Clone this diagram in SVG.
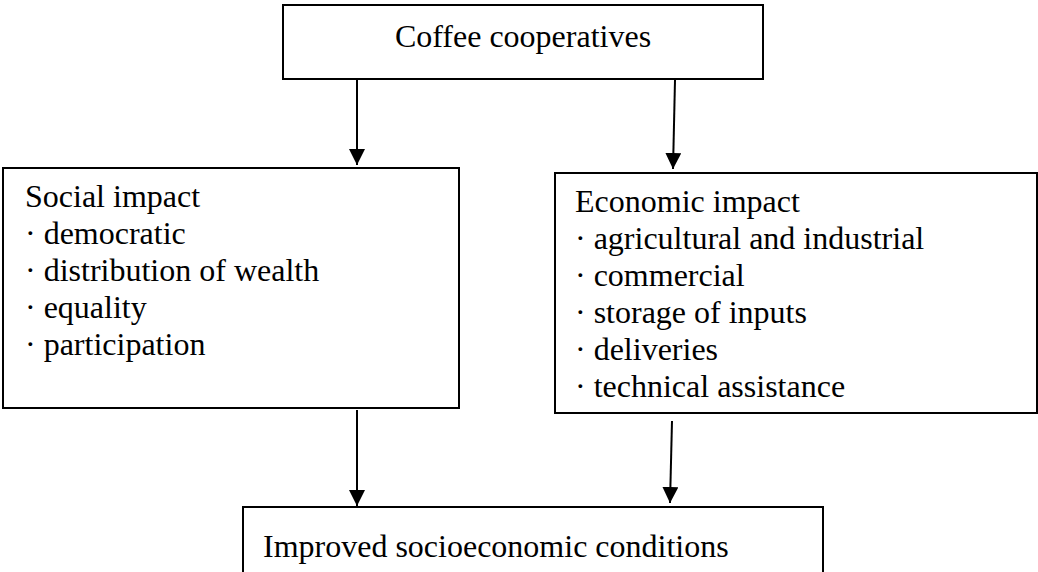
<svg xmlns="http://www.w3.org/2000/svg" width="1038" height="572" viewBox="0 0 1038 572">
<style>
.box{fill:#fff;stroke:#000;stroke-width:2}
.t{font-family:"Liberation Serif","Times New Roman",serif;font-size:32px;fill:#000}
.c{stroke:#000;stroke-width:2;fill:none}
</style>
<defs>
<marker id="ah" markerUnits="userSpaceOnUse" markerWidth="16" markerHeight="16" viewBox="0 0 16 16" refX="16" refY="8" orient="auto">
<path d="M0,0 L16,8 L0,16 Z" fill="#000"/>
</marker>
</defs>
<rect width="1038" height="572" fill="#fff"/>
<g id="coffee">
<rect class="box" x="283" y="5" width="480" height="74"/>
<text class="t" x="523" y="47" text-anchor="middle">Coffee cooperatives</text>
</g>
<g id="social">
<rect class="box" x="3" y="168" width="456" height="240"/>
<text class="t" x="25" y="207">Social impact</text>
<text class="t" x="25" y="244">· democratic</text>
<text class="t" x="25" y="281">· distribution of wealth</text>
<text class="t" x="25" y="318">· equality</text>
<text class="t" x="25" y="355">· participation</text>
</g>
<g id="economic">
<rect class="box" x="555" y="173" width="482" height="240"/>
<text class="t" x="575" y="212">Economic impact</text>
<text class="t" x="575" y="249">· agricultural and industrial</text>
<text class="t" x="575" y="286">· commercial</text>
<text class="t" x="575" y="323">· storage of inputs</text>
<text class="t" x="575" y="360">· deliveries</text>
<text class="t" x="575" y="397">· technical assistance</text>
</g>
<g id="improved">
<rect class="box" x="243" y="507" width="580" height="80"/>
<text class="t" x="263" y="557">Improved socioeconomic conditions</text>
</g>
<g id="connectors">
<line class="c" x1="357" y1="80" x2="357" y2="165" marker-end="url(#ah)"/>
<line class="c" x1="675" y1="80" x2="673" y2="169" marker-end="url(#ah)"/>
<line class="c" x1="357" y1="410" x2="357" y2="506" marker-end="url(#ah)"/>
<line class="c" x1="672" y1="421" x2="670" y2="503" marker-end="url(#ah)"/>
</g>
</svg>
